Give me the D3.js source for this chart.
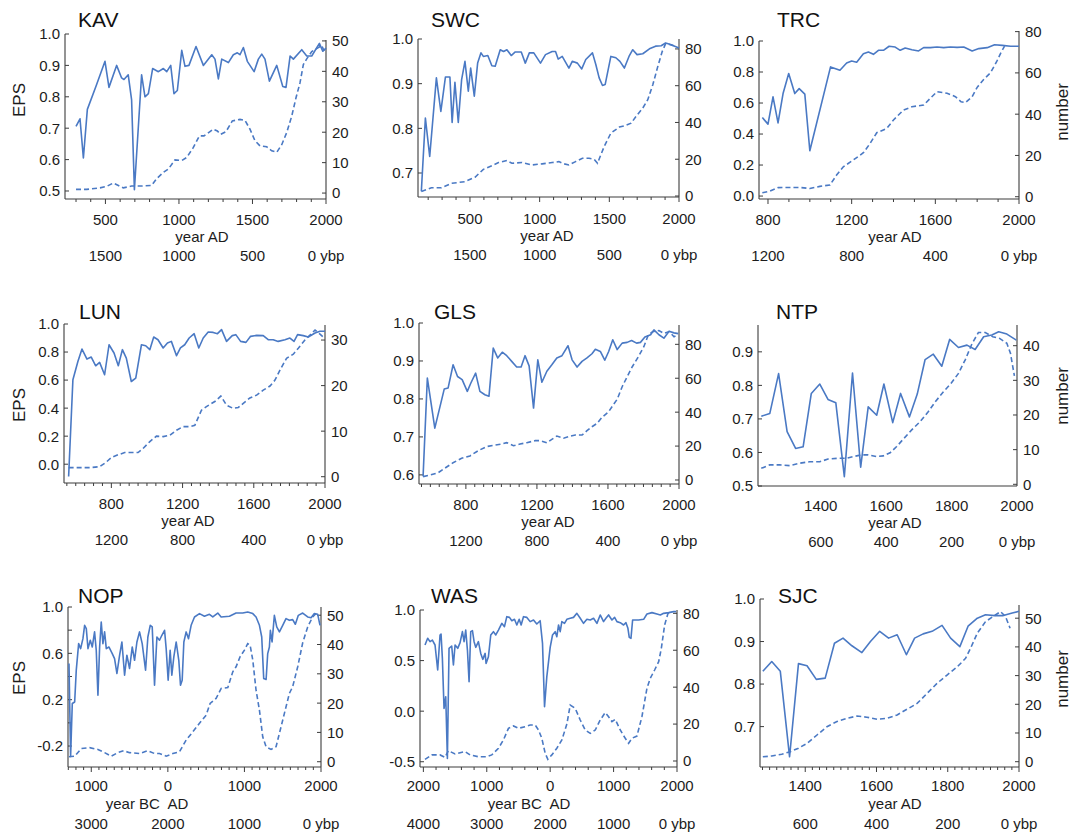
<!DOCTYPE html>
<html>
<head>
<meta charset="utf-8">
<script src="https://cdn.jsdelivr.net/npm/d3@7"></script>
<style>
  body { margin: 0; background: #fff; }
  svg { display: block; font-family: "Liberation Sans", Arial, sans-serif; }
</style>
</head>
<body>
<svg id="chart" width="1072" height="835"></svg>
<script>
// ---------- site data: EPS (solid) and number of series (dashed) ----------
const KAV_EPS_YR = [300,327,350,377,437,497,524,576,610,626,655,678,697,746,769,792,821,860,894,917,944,966,989,1019,1041,1068,1116,1166,1223,1245,1268,1291,1336,1370,1397,1415,1438,1465,1511,1540,1563,1585,1615,1665,1706,1728,1756,1778,1835,1869,1903,1955,1978,2000];
const KAV_EPS = [0.706,0.73,0.605,0.76,0.835,0.913,0.83,0.90,0.86,0.855,0.87,0.79,0.504,0.87,0.80,0.81,0.89,0.88,0.89,0.88,0.90,0.81,0.82,0.948,0.897,0.90,0.96,0.90,0.934,0.92,0.857,0.92,0.909,0.934,0.94,0.934,0.957,0.913,0.88,0.92,0.936,0.92,0.85,0.90,0.833,0.83,0.93,0.92,0.95,0.93,0.93,0.97,0.945,0.955];
const KAV_N_YR = [300,372,463,508,554,588,622,678,735,814,848,894,928,973,1019,1053,1098,1139,1170,1211,1234,1261,1284,1320,1363,1415,1449,1483,1517,1551,1597,1631,1665,1699,1733,1767,1796,1823,1846,1869,1903,1948,1971,1993];
const KAV_N = [1.2,1.2,1.7,2.2,3.3,2.5,1.7,2.3,2.3,2.5,4.7,6.8,7.9,10.9,10.7,11.7,15,18.8,18.8,20.2,21,20.4,19.3,20.2,23.7,24.2,23.9,21,17.2,15.5,15.2,13.9,13.4,15.9,19.9,25.3,31.3,36.2,42.2,44.1,46.5,47.8,48.5,46];

const SWC_EPS_YR = [151,180,211,259,291,324,356,372,392,416,440,464,488,505,531,555,579,596,628,657,681,717,741,765,796,825,868,897,926,958,1006,1042,1090,1114,1133,1162,1210,1234,1271,1302,1331,1379,1403,1427,1451,1470,1511,1547,1576,1608,1644,1668,1699,1740,1788,1832,1872,1904,1945,1969,2000];
const SWC_EPS = [0.659,0.823,0.737,0.913,0.838,0.915,0.915,0.813,0.903,0.813,0.909,0.95,0.883,0.935,0.872,0.946,0.969,0.961,0.963,0.94,0.939,0.976,0.972,0.976,0.963,0.971,0.971,0.946,0.969,0.969,0.946,0.965,0.972,0.972,0.955,0.961,0.935,0.95,0.946,0.933,0.954,0.969,0.943,0.913,0.896,0.898,0.961,0.958,0.95,0.935,0.963,0.976,0.965,0.967,0.978,0.984,0.985,0.991,0.987,0.984,0.98];
const SWC_N_YR = [151,223,295,368,464,536,596,657,705,765,801,873,945,1018,1090,1138,1174,1210,1258,1307,1355,1391,1415,1463,1511,1572,1608,1656,1692,1740,1776,1812,1848,1880,1904,1933,1969];
const SWC_N = [2.4,4.5,4.5,6.9,7.8,10.2,14.5,16.5,18.2,19.3,17.8,18.2,16.9,17.5,18.2,18.7,17.5,16.9,18.7,20.5,20.5,20,17.8,26.9,34.2,37.5,38.2,39.6,43.3,47.8,52.4,60.5,70.5,78.7,82.9,82.4,81.5];

const TRC_EPS_YR = [773,800,824,848,872,899,928,949,976,1000,1099,1144,1176,1200,1224,1256,1280,1304,1328,1352,1379,1408,1432,1456,1488,1520,1544,1576,1608,1640,1672,1704,1736,1776,1808,1848,1883,1920,1960,2000];
const TRC_EPS = [0.506,0.464,0.64,0.472,0.661,0.79,0.661,0.693,0.657,0.292,0.833,0.811,0.858,0.871,0.863,0.918,0.929,0.914,0.94,0.94,0.966,0.961,0.94,0.955,0.944,0.936,0.957,0.957,0.961,0.957,0.961,0.959,0.961,0.936,0.951,0.957,0.976,0.972,0.966,0.966];
const TRC_N_YR = [773,808,848,904,952,1000,1048,1096,1128,1160,1208,1256,1288,1320,1368,1400,1448,1488,1544,1576,1608,1656,1696,1723,1744,1776,1800,1832,1864,1893,1912,1931];
const TRC_N = [1.9,2.7,4.4,4.5,4.5,4.0,5.0,5.7,10.5,14.5,17.8,21.3,25.8,31,33.1,37.2,42,43.6,44.4,47.7,50.9,50.1,48.5,46,45.6,48.5,53,56.9,60.1,65.4,69.5,73];

const LUN_EPS_YR = [560,584,612,635,663,687,712,734,762,787,815,839,862,884,912,937,969,993,1016,1038,1062,1091,1115,1137,1166,1188,1212,1237,1265,1291,1316,1344,1372,1396,1419,1447,1479,1499,1526,1556,1582,1616,1653,1681,1709,1737,1775,1803,1826,1846,1878,1906,1944,1972,2000];
const LUN_EPS = [-0.088,0.602,0.733,0.821,0.75,0.764,0.702,0.726,0.638,0.852,0.793,0.702,0.817,0.757,0.59,0.614,0.852,0.845,0.817,0.907,0.888,0.829,0.864,0.876,0.774,0.829,0.852,0.9,0.931,0.829,0.9,0.943,0.94,0.931,0.96,0.876,0.917,0.924,0.876,0.869,0.912,0.919,0.917,0.888,0.888,0.876,0.888,0.9,0.876,0.924,0.917,0.907,0.936,0.948,0.948];
const LUN_N_YR = [560,622,678,734,768,800,837,875,912,950,978,1016,1053,1091,1128,1166,1203,1241,1269,1306,1334,1381,1415,1447,1484,1513,1541,1578,1616,1653,1691,1719,1747,1784,1822,1850,1887,1916,1944,1972,1991];
const LUN_N = [2.0,2.0,2.0,2.2,3.1,4.2,4.8,5.3,5.3,5.3,6.2,7.7,8.9,8.8,9.1,10.2,11,11,11.3,14.6,15.4,16.5,17.7,15.7,15,15.2,16.1,17.3,17.9,19,19.9,21.2,23.4,26,26.9,28.2,30,31.1,32.2,31.3,30.6];

const GLS_EPS_YR = [559,583,625,678,700,728,753,779,808,828,855,879,907,930,954,979,1005,1030,1058,1086,1111,1133,1156,1181,1205,1228,1256,1284,1312,1341,1375,1398,1426,1454,1482,1510,1529,1557,1582,1604,1627,1652,1680,1708,1733,1761,1783,1808,1840,1859,1887,1915,1944,1972,1996];
const GLS_EPS = [0.596,0.855,0.723,0.826,0.829,0.89,0.859,0.851,0.82,0.842,0.868,0.82,0.811,0.807,0.934,0.908,0.923,0.914,0.899,0.884,0.884,0.914,0.887,0.776,0.903,0.844,0.873,0.89,0.908,0.914,0.94,0.903,0.884,0.899,0.908,0.919,0.931,0.925,0.902,0.925,0.956,0.93,0.947,0.949,0.954,0.947,0.949,0.963,0.969,0.982,0.969,0.96,0.978,0.974,0.972];
const GLS_N_YR = [559,597,644,681,728,776,823,870,917,964,1002,1030,1068,1105,1143,1190,1218,1256,1284,1312,1350,1388,1416,1454,1482,1510,1539,1567,1604,1633,1652,1680,1708,1737,1771,1802,1827,1853,1887,1915,1944,1972,1991];
const GLS_N = [2,2.9,4.3,6.9,10.2,12.8,14.2,17.3,19.7,20.6,21.2,22,20.2,21.2,22,23.2,23.2,22,24,25.9,24.6,25.9,26.5,26.5,29.1,31.4,33.4,37,40.3,44.8,47.6,55,60.9,66.8,72.7,78.6,85.5,87.5,88.1,86.5,87.5,84.5,85.5];

const NTP_EPS_YR = [1218,1244,1271,1297,1323,1346,1371,1397,1422,1446,1472,1497,1522,1545,1571,1593,1620,1644,1671,1695,1719,1744,1770,1794,1821,1847,1872,1898,1923,1944,1969,1998];
const NTP_EPS = [0.708,0.716,0.835,0.662,0.612,0.617,0.776,0.804,0.758,0.748,0.528,0.837,0.556,0.736,0.711,0.804,0.689,0.776,0.706,0.774,0.877,0.893,0.857,0.937,0.913,0.92,0.907,0.945,0.95,0.96,0.953,0.935];
const NTP_N_YR = [1218,1244,1274,1305,1336,1366,1397,1422,1453,1479,1499,1525,1545,1571,1591,1612,1632,1652,1678,1704,1729,1750,1775,1798,1821,1842,1862,1882,1903,1926,1947,1969,1980,1992];
const NTP_N = [4.6,5.6,5.6,5.4,6.1,6.5,6.5,7.3,7.5,7.5,8,8.5,8.5,8,8.2,9.1,10.9,13,15.7,18.1,21,23.8,26.7,29.1,32,36,40.5,43.8,43.8,42.6,42.1,40.7,37.8,31.3];

const NOP_EPS_YR = [-1291,-1270,-1248,-1217,-1196,-1165,-1139,-1109,-1087,-1065,-1043,-1013,-987,-957,-935,-913,-891,-870,-848,-826,-804,-770,-726,-696,-665,-630,-600,-565,-535,-500,-465,-435,-404,-370,-335,-291,-261,-230,-204,-174,-143,-109,-78,-43,-22,4,30,52,78,109,143,165,187,209,239,270,304,348,413,478,543,587,652,696,804,891,978,1043,1109,1152,1196,1226,1252,1283,1304,1326,1339,1361,1391,1422,1457,1500,1543,1587,1630,1665,1704,1761,1826,1870,1913,1957,1987];
const NOP_EPS = [0.512,-0.29,0.167,0.18,0.455,0.684,0.641,0.727,0.842,0.813,0.641,0.713,0.655,0.785,0.627,0.239,0.655,0.871,0.684,0.785,0.641,0.655,0.598,0.555,0.426,0.584,0.698,0.411,0.584,0.469,0.655,0.54,0.698,0.785,0.684,0.454,0.741,0.842,0.828,0.325,0.741,0.713,0.756,0.799,0.641,0.368,0.627,0.411,0.569,0.698,0.54,0.325,0.368,0.698,0.785,0.727,0.842,0.914,0.943,0.92,0.937,0.914,0.948,0.914,0.92,0.948,0.948,0.957,0.943,0.914,0.842,0.741,0.382,0.374,0.598,0.655,0.799,0.698,0.928,0.828,0.785,0.842,0.9,0.885,0.891,0.851,0.928,0.948,0.914,0.908,0.943,0.937,0.842];
const NOP_N_YR = [-1291,-1217,-1130,-1022,-913,-826,-739,-652,-578,-500,-370,-261,-174,-109,-22,65,152,239,326,413,500,552,630,696,783,848,891,943,1000,1043,1074,1109,1152,1196,1239,1283,1348,1413,1457,1522,1587,1630,1696,1761,1826,1891,1935];
const NOP_N = [1.7,1.9,4.5,4.8,4.2,3.1,1.9,3.1,3.75,3.1,2.8,3.75,2.8,2.8,1.9,2.8,3.4,7.4,10.2,13.1,15.9,19.9,21.6,25,25.3,30.7,32.4,35.8,38.1,40.3,39.8,34.7,24.4,17.6,8.5,5.1,4.2,5.1,9.7,16.5,23.3,25.6,32.4,40.6,46,49.4,50.6];

const WAS_EPS_YR = [-1974,-1932,-1895,-1858,-1816,-1774,-1737,-1721,-1700,-1674,-1647,-1621,-1595,-1553,-1526,-1500,-1458,-1421,-1384,-1358,-1332,-1305,-1279,-1253,-1226,-1200,-1174,-1132,-1095,-1063,-1026,-1011,-974,-937,-895,-858,-816,-763,-721,-684,-642,-605,-563,-526,-489,-458,-421,-368,-316,-263,-211,-158,-121,-89,-53,0,37,79,105,132,158,184,226,263,316,368,421,474,526,579,632,684,737,789,842,879,921,974,1016,1053,1105,1158,1195,1226,1247,1274,1300,1395,1474,1526,1605,1684,1737,1789,1868,1947,1984];
const WAS_EPS = [0.654,0.72,0.687,0.703,0.654,0.407,0.753,0.763,0.522,0.027,0.143,-0.467,0.621,0.644,0.456,0.654,0.621,0.677,0.786,0.687,0.802,0.604,0.291,0.786,0.796,0.687,0.631,0.687,0.571,0.512,0.571,0.472,0.538,0.753,0.786,0.753,0.802,0.868,0.835,0.934,0.927,0.894,0.908,0.852,0.908,0.852,0.934,0.927,0.885,0.901,0.862,0.894,0.67,0.044,0.341,0.631,0.753,0.786,0.736,0.852,0.786,0.885,0.868,0.908,0.918,0.927,0.967,0.918,0.868,0.908,0.901,0.918,0.868,0.951,0.885,0.918,0.951,0.901,0.927,0.885,0.875,0.852,0.875,0.819,0.73,0.72,0.901,0.901,0.908,0.96,0.974,0.96,0.951,0.967,0.974,0.984,0.984];
const WAS_N_YR = [-1974,-1868,-1737,-1658,-1605,-1500,-1342,-1263,-1132,-1000,-921,-816,-737,-658,-579,-500,-395,-316,-237,-184,-132,-79,-37,26,105,184,263,316,395,474,553,632,711,789,868,921,974,1026,1105,1184,1237,1289,1368,1447,1526,1579,1647,1711,1753,1805,1858,1921];
const WAS_N = [0.9,3.3,3.3,2.0,5.6,3.8,5.1,3.3,2.3,2.3,3.3,6.9,11.4,17.7,19,17.7,18.6,19.5,19.5,16.8,12.3,4.2,0.9,3.3,6.9,11.4,20,30.3,28.5,22.2,16.8,15,16.8,22.2,26.2,24,21.3,22.6,16.8,12.3,9.6,12.3,13.5,24,39.4,44.8,49.3,53.8,61,73.7,80,80.4];

const SJC_EPS_YR = [1281,1306,1330,1356,1381,1405,1431,1456,1482,1506,1531,1559,1583,1609,1634,1658,1684,1707,1731,1756,1784,1808,1834,1857,1883,1906,1932,1956,1981,2000];
const SJC_EPS = [0.83,0.853,0.83,0.629,0.848,0.843,0.811,0.814,0.896,0.908,0.89,0.874,0.9,0.924,0.908,0.916,0.869,0.908,0.918,0.924,0.938,0.908,0.888,0.936,0.955,0.963,0.961,0.961,0.967,0.971];
const SJC_N_YR = [1281,1306,1334,1358,1381,1405,1433,1461,1489,1517,1545,1573,1602,1630,1658,1686,1714,1742,1770,1798,1827,1850,1864,1883,1906,1930,1948,1962,1975];
const SJC_N = [1.7,2.0,2.6,3.5,4.7,6.4,9.3,12.2,14,15.1,15.9,15.5,14.8,15.1,16.3,18.3,20.3,23.8,27.3,30.2,33.1,36,39.5,44.8,48.8,50.8,52.3,50.6,46.5];

// ---------- axis ticks and labels ----------
const EPS_TICKS_01 = [0.5,0.6,0.7,0.8,0.9,1.0];
const EPS_TICKS_SWC = [0.7,0.8,0.9,1.0];
const EPS_TICKS_02 = [0.0,0.2,0.4,0.6,0.8,1.0];
const EPS_TICKS_GLS = [0.6,0.7,0.8,0.9,1.0];
const EPS_TICKS_NTP = [0.5,0.6,0.7,0.8,0.9];
const EPS_TICKS_NOP = [-0.2,0.0,0.2,0.4,0.6,0.8,1.0];
const EPS_LABELS_NOP = [-0.2,0.2,0.6,1.0];
const EPS_TICKS_WAS = [-0.5,0.0,0.5,1.0];
const EPS_TICKS_SJC = [0.7,0.8,0.9,1.0];
const N_TICKS_10_50 = [0,10,20,30,40,50];
const N_TICKS_20_80 = [0,20,40,60,80];
const N_TICKS_LUN = [0,10,20,30];
const N_TICKS_NTP = [0,10,20,30,40];
const YEAR_LABELS_KAV = [500,1000,1500,2000];
const YEAR_LABELS_400 = [800,1200,1600,2000];
const YEAR_LABELS_200 = [1400,1600,1800,2000];
const YEAR_LABELS_NOP = [-1000,0,1000,2000];
const YEAR_LABELS_WAS = [-2000,-1000,0,1000,2000];
const BP_ZERO = 2000;   // "0 ybp" reference year

// ---------- panel layout ----------
const ROW_LAB_TOP = [26,43,62];
const ROW_LAB_BOTTOM = [24,41.5,62];
const panels = [
  { name:"KAV", eYr:KAV_EPS_YR, e:KAV_EPS, nYr:KAV_N_YR, n:KAV_N,
    px:[65,326], yb:199, xDom:[225,2000], eDom:[0.4745,1.0], eTop:34, nDom:[-1.95,50.3], nTop:40,
    eTicks:EPS_TICKS_01, eLabels:EPS_TICKS_01, nTicks:N_TICKS_10_50, minor:100, xLabels:YEAR_LABELS_KAV,
    xTitle:"year AD", xTitleX:202, lab:ROW_LAB_TOP, title:[78,27], sideY:100, eps:true },
  { name:"SWC", eYr:SWC_EPS_YR, e:SWC_EPS, nYr:SWC_N_YR, n:SWC_N,
    px:[418,679], yb:197, xDom:[127,2000], eDom:[0.6463,1.0], eTop:39, nDom:[-0.54,85.4], nTop:39,
    eTicks:EPS_TICKS_SWC, eLabels:EPS_TICKS_SWC, nTicks:N_TICKS_20_80, minor:100, xLabels:YEAR_LABELS_KAV,
    xTitle:"year AD", xTitleX:547, lab:[27,44,63], title:[431,27], sideY:100 },
  { name:"TRC", eYr:TRC_EPS_YR, e:TRC_EPS, nYr:TRC_N_YR, n:TRC_N,
    px:[759,1019], yb:199, xDom:[757,2000], eDom:[-0.019,1.0], eTop:41, nDom:[-1.1,80.3], nTop:31,
    eTicks:EPS_TICKS_02, eLabels:EPS_TICKS_02, nTicks:N_TICKS_20_80, minor:100, xLabels:YEAR_LABELS_400,
    xTitle:"year AD", xTitleX:895, lab:ROW_LAB_TOP, title:[777,27], sideY:112, num:true },
  { name:"LUN", eYr:LUN_EPS_YR, e:LUN_EPS, nYr:LUN_N_YR, n:LUN_N,
    px:[64,325], yb:483, xDom:[534,2000], eDom:[-0.134,1.0], eTop:324, nDom:[-1.38,33.3], nTop:325,
    eTicks:EPS_TICKS_02, eLabels:EPS_TICKS_02, nTicks:N_TICKS_LUN, minor:50, xLabels:YEAR_LABELS_400,
    xTitle:"year AD", xTitleX:188, lab:ROW_LAB_TOP, title:[79,319], sideY:405, eps:true },
  { name:"GLS", eYr:GLS_EPS_YR, e:GLS_EPS, nYr:GLS_N_YR, n:GLS_N,
    px:[419,679], yb:484, xDom:[536,2000], eDom:[0.576,1.0], eTop:323, nDom:[-2.36,91.4], nTop:325,
    eTicks:EPS_TICKS_GLS, eLabels:EPS_TICKS_GLS, nTicks:N_TICKS_20_80, minor:50, xLabels:YEAR_LABELS_400,
    xTitle:"year AD", xTitleX:548, lab:ROW_LAB_TOP, title:[434,319], sideY:405 },
  { name:"NTP", eYr:NTP_EPS_YR, e:NTP_EPS, nYr:NTP_N_YR, n:NTP_N,
    px:[758,1017], yb:486, xDom:[1208,2000], eDom:[0.5,0.98], eTop:325, nDom:[-0.49,45.97], nTop:325,
    eTicks:EPS_TICKS_NTP, eLabels:EPS_TICKS_NTP, nTicks:N_TICKS_NTP, minor:0, xLabels:YEAR_LABELS_200,
    xTitle:"year AD", xTitleX:895, lab:[25,42,61], title:[776,319], sideY:396, num:true },
  { name:"NOP", eYr:NOP_EPS_YR, e:NOP_EPS, nYr:NOP_N_YR, n:NOP_N,
    px:[68,321], yb:767, xDom:[-1304,2000], eDom:[-0.381,1.0], eTop:607, nDom:[-1.8,52.8], nTop:607,
    eTicks:EPS_TICKS_NOP, eLabels:EPS_LABELS_NOP, nTicks:N_TICKS_10_50, minor:100, xLabels:YEAR_LABELS_NOP,
    xTitle:"year BC  AD", xTitleX:147, lab:ROW_LAB_BOTTOM, title:[78,603], sideY:678, eps:true },
  { name:"WAS", eYr:WAS_EPS_YR, e:WAS_EPS, nYr:WAS_N_YR, n:WAS_N,
    px:[420,677], yb:767, xDom:[-2053,2000], eDom:[-0.552,1.0], eTop:610, nDom:[-3.25,81.8], nTop:610,
    eTicks:EPS_TICKS_WAS, eLabels:EPS_TICKS_WAS, nTicks:N_TICKS_20_80, minor:200, xLabels:YEAR_LABELS_WAS,
    xTitle:"year BC  AD", xTitleX:529, lab:ROW_LAB_BOTTOM, title:[431,603], sideY:678 },
  { name:"SJC", eYr:SJC_EPS_YR, e:SJC_EPS, nYr:SJC_N_YR, n:SJC_N,
    px:[760,1019], yb:767, xDom:[1273,2000], eDom:[0.605,1.0], eTop:599, nDom:[-1.85,54.6], nTop:605,
    eTicks:EPS_TICKS_SJC, eLabels:EPS_TICKS_SJC, nTicks:N_TICKS_10_50, minor:20, xLabels:YEAR_LABELS_200,
    xTitle:"year AD", xTitleX:895, lab:ROW_LAB_BOTTOM, title:[778,603], sideY:679, num:true }
];

const LINE = "#4a79c4";
const AXIS = "#3c3c3c";
const TEXT = "#1c1c1c";

const svg = d3.select("#chart");

panels.forEach(p => {
  const g = svg.append("g").attr("class", "panel-" + p.name);
  const [x0, x1] = p.px;
  const x = d3.scaleLinear().domain(p.xDom).range([x0, x1]);
  const yE = d3.scaleLinear().domain(p.eDom).range([p.yb, p.eTop]);
  const yN = d3.scaleLinear().domain(p.nDom).range([p.yb, p.nTop]);

  // frame: left, right and bottom axis lines
  g.append("line").attr("x1", x0).attr("x2", x0).attr("y1", p.yb).attr("y2", p.eTop)
    .attr("stroke", AXIS).attr("stroke-width", 1.1);
  g.append("line").attr("x1", x1).attr("x2", x1).attr("y1", p.yb).attr("y2", p.nTop)
    .attr("stroke", AXIS).attr("stroke-width", 1.1);
  g.append("line").attr("x1", x0).attr("x2", x1).attr("y1", p.yb).attr("y2", p.yb)
    .attr("stroke", AXIS).attr("stroke-width", 1.1);

  // left EPS ticks (pointing inward)
  p.eTicks.forEach(v => {
    g.append("line").attr("x1", x0).attr("x2", x0 + 4).attr("y1", yE(v)).attr("y2", yE(v))
      .attr("stroke", AXIS).attr("stroke-width", 1);
  });
  p.eLabels.forEach(v => {
    g.append("text").attr("x", x0 - 5).attr("y", yE(v)).attr("dy", "0.36em")
      .attr("text-anchor", "end").attr("font-size", 15).attr("fill", TEXT)
      .text(v.toFixed(1));
  });

  // right "number" ticks (pointing inward)
  p.nTicks.forEach(v => {
    g.append("line").attr("x1", x1 - 4).attr("x2", x1).attr("y1", yN(v)).attr("y2", yN(v))
      .attr("stroke", AXIS).attr("stroke-width", 1);
    g.append("text").attr("x", x1 + 6).attr("y", yN(v)).attr("dy", "0.36em")
      .attr("text-anchor", "start").attr("font-size", 15).attr("fill", TEXT)
      .text(v);
  });

  // bottom year ticks (pointing outward), longer at labelled years
  const minorTicks = p.minor ? d3.range(Math.ceil(p.xDom[0] / p.minor) * p.minor, p.xDom[1] + 0.1, p.minor) : [];
  const allTicks = Array.from(new Set(minorTicks.concat(p.minor ? p.xLabels : [])));
  allTicks.forEach(v => {
    const major = p.xLabels.includes(v);
    g.append("line").attr("x1", x(v)).attr("x2", x(v)).attr("y1", p.yb).attr("y2", p.yb + (major ? 5 : 3))
      .attr("stroke", AXIS).attr("stroke-width", 1);
  });

  // year AD / BC labels and ybp labels
  p.xLabels.forEach(v => {
    g.append("text").attr("x", x(v)).attr("y", p.yb + p.lab[0])
      .attr("text-anchor", "middle").attr("font-size", 15).attr("fill", TEXT)
      .text(Math.abs(v));
    const bp = BP_ZERO - v;
    g.append("text").attr("x", x(v)).attr("y", p.yb + p.lab[2])
      .attr("text-anchor", "middle").attr("font-size", 15).attr("fill", TEXT)
      .text(bp === 0 ? "0 ybp" : bp);
  });
  g.append("text").attr("x", p.xTitleX).attr("y", p.yb + p.lab[1])
    .attr("text-anchor", "middle").attr("font-size", 15).attr("fill", TEXT)
    .attr("xml:space", "preserve").style("white-space", "pre")
    .text(p.xTitle);

  // site title
  g.append("text").attr("x", p.title[0]).attr("y", p.title[1])
    .attr("font-size", 21).attr("fill", "#111").text(p.name);

  // side titles
  if (p.eps) {
    g.append("text").attr("transform", `translate(25,${p.sideY}) rotate(-90)`)
      .attr("text-anchor", "middle").attr("font-size", 17).attr("fill", TEXT).text("EPS");
  }
  if (p.num) {
    g.append("text").attr("transform", `translate(1068,${p.sideY}) rotate(-90)`)
      .attr("text-anchor", "middle").attr("font-size", 17).attr("fill", TEXT).text("number");
  }

  // series: number of samples (dashed) and EPS (solid)
  const nPts = p.nYr.map((yr, i) => [yr, p.n[i]]);
  const ePts = p.eYr.map((yr, i) => [yr, p.e[i]]);
  g.append("path").datum(nPts)
    .attr("d", d3.line().x(d => x(d[0])).y(d => yN(d[1])))
    .attr("fill", "none").attr("stroke", LINE).attr("stroke-width", 1.6)
    .attr("stroke-dasharray", "5,3");
  g.append("path").datum(ePts)
    .attr("d", d3.line().x(d => x(d[0])).y(d => yE(d[1])))
    .attr("fill", "none").attr("stroke", LINE).attr("stroke-width", 1.6)
    .attr("stroke-linejoin", "round");
});
</script>
</body>
</html>
